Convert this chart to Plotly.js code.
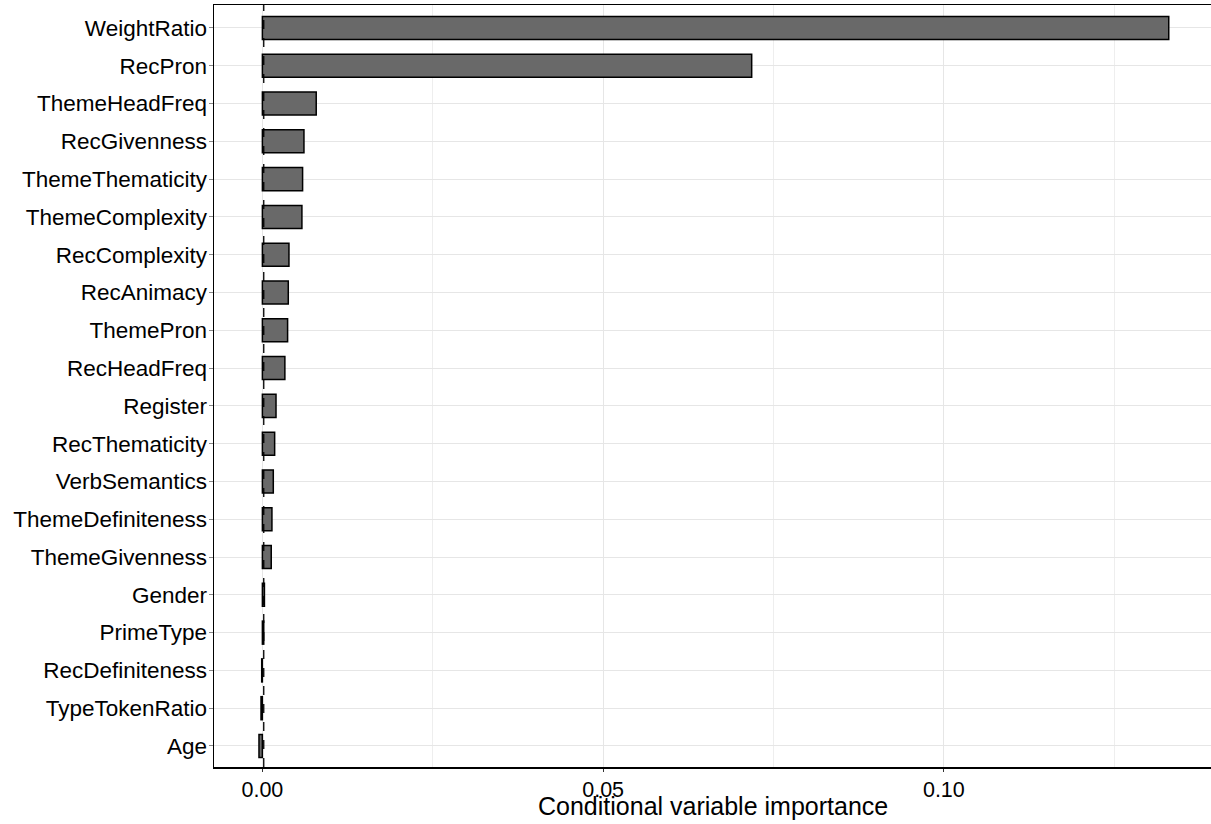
<!DOCTYPE html>
<html>
<head>
<meta charset="utf-8">
<script src="https://cdn.plot.ly/plotly-3.0.1.min.js"></script>
<style>html,body{margin:0;padding:0;background:#fff;}#chart{width:1211px;height:824px;}</style>
</head>
<body>
<div id="chart"></div>
<script>
// Variables, ordered top to bottom
const variables = ["WeightRatio","RecPron","ThemeHeadFreq","RecGivenness","ThemeThematicity","ThemeComplexity","RecComplexity","RecAnimacy","ThemePron","RecHeadFreq","Register","RecThematicity","VerbSemantics","ThemeDefiniteness","ThemeGivenness","Gender","PrimeType","RecDefiniteness","TypeTokenRatio","Age"];
const importance = [0.1330,0.0718,0.0079,0.0061,0.0059,0.0058,0.0039,0.0038,0.0037,0.0033,0.0020,0.0018,0.0016,0.0014,0.0013,0.0003,0.0002,-0.0001,-0.0002,-0.0005];
const referenceLine = 0.0002;
const xTickVals = [0, 0.05, 0.10];
const xTickText = ["0.00", "0.05", "0.10"];
const xTitle = "Conditional variable importance";

const trace = {
  type: "bar",
  orientation: "h",
  x: importance,
  y: variables,
  marker: {color: "#696969", line: {color: "#000000", width: 1.5}},
  hoverinfo: "x+y"
};

const layout = {
  width: 1211, height: 824,
  margin: {l: 214, r: 0, t: 5, b: 57},
  paper_bgcolor: "#ffffff",
  plot_bgcolor: "#ffffff",
  font: {family: "Liberation Sans, Arial, Helvetica, sans-serif", color: "#000000"},
  bargap: 0.39,
  showlegend: false,
  xaxis: {
    range: [-0.0071, 0.1392],
    tickvals: xTickVals,
    ticktext: xTickText,
    tickfont: {size: 21.5, color: "#000000"},
    ticks: "outside", ticklen: 3, tickcolor: "#333333", tickwidth: 1,
    showgrid: true, gridcolor: "#e6e6e6", gridwidth: 1,
    minor: {dtick: 0.025, tick0: 0, showgrid: true, gridcolor: "#eeeeee", gridwidth: 1, ticklen: 0},
    zeroline: false,
    showline: true, linecolor: "#000000", linewidth: 1.5, mirror: true,
    automargin: false,
    fixedrange: true
  },
  yaxis: {
    type: "category",
    categoryorder: "array",
    categoryarray: variables,
    range: [19.556, -0.608],
    tickfont: {size: 22.5, color: "#000000"},
    ticks: "outside", ticklen: 4, tickcolor: "#888888", tickwidth: 1,
    ticklabelstandoff: -3,
    showgrid: true, gridcolor: "#e6e6e6", gridwidth: 1,
    zeroline: false,
    showline: true, linecolor: "#000000", linewidth: 1.5,
    automargin: false,
    fixedrange: true
  },
  annotations: [{
    text: xTitle, xref: "paper", yref: "paper", x: 0.5, y: -0.051,
    xanchor: "center", yanchor: "middle", showarrow: false,
    font: {size: 25, color: "#000000"}
  }],
  shapes: [{
    type: "line", xref: "x", yref: "paper",
    x0: referenceLine, x1: referenceLine, y0: 0, y1: 1,
    line: {color: "#000000", width: 1.3, dash: "dash"}
  }]
};

Plotly.newPlot("chart", [trace], layout, {displayModeBar: false, staticPlot: true});
</script>
</body>
</html>
